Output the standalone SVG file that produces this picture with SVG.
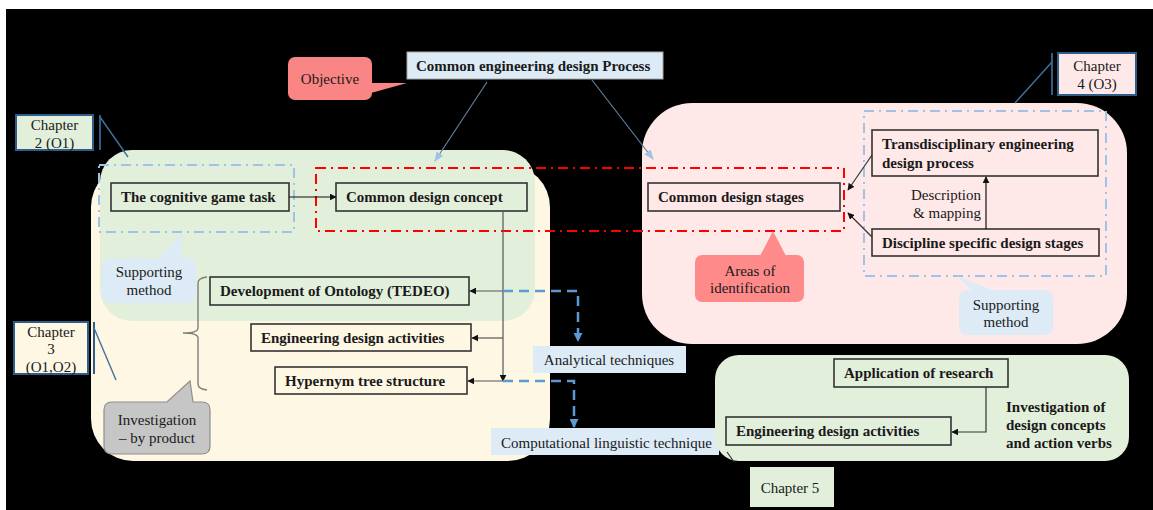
<svg xmlns="http://www.w3.org/2000/svg" width="1153" height="510" viewBox="0 0 1153 510">
  <defs>
    <style>
      text { font-family: "Liberation Serif", "Times New Roman", serif; font-size: 15px; fill: #1a1a1a; }
      .b { font-weight: bold; }
      .c { text-anchor: middle; }
      .r { text-anchor: end; }
      .node { fill: none; stroke: #333333; stroke-width: 1.6; }
      .chap { stroke: #2F5D8A; stroke-width: 2; }
      .lead { stroke: #41719C; stroke-width: 1.4; fill: none; }
      .dashblue { fill: none; stroke: #9DC3E6; stroke-width: 2; stroke-dasharray: 10 5 2 5; }
      .dashred { fill: none; stroke: #FF0000; stroke-width: 2; stroke-dasharray: 10 5 2 5; }
      .conn { fill: none; stroke: #555555; stroke-width: 1.2; }
      .flow { fill: none; stroke: #5B9BD5; stroke-width: 2.5; stroke-dasharray: 10 6; }
      .goal { fill: none; stroke: #5F7F9E; stroke-width: 1.2; }
    </style>
    <marker id="ah" viewBox="0 0 10 10" refX="9" refY="5" markerWidth="7" markerHeight="7" orient="auto" markerUnits="userSpaceOnUse">
      <path d="M0,0 L10,5 L0,10 z" fill="#111111"/>
    </marker>
    <marker id="ahBlue" viewBox="0 0 10 10" refX="9" refY="5" markerWidth="9" markerHeight="9" orient="auto" markerUnits="userSpaceOnUse">
      <path d="M0,0 L10,5 L0,10 z" fill="#5B9BD5"/>
    </marker>
    <marker id="ahLight" viewBox="0 0 10 10" refX="9" refY="5" markerWidth="10" markerHeight="10" orient="auto" markerUnits="userSpaceOnUse">
      <path d="M0,1 L10,5 L0,9 z" fill="#9DC3E6"/>
    </marker>
  </defs>

  <!-- canvas -->
  <rect x="0" y="0" width="1153" height="510" fill="#ffffff"/>
  <rect x="6" y="9" width="1147" height="501" fill="#000000"/>

  <!-- regions -->
  <g id="region-chapter3">
    <rect x="91" y="165" width="459" height="296" rx="42" fill="#FEF7E4"/>
  </g>
  <g id="region-chapter2">
    <rect x="100" y="150" width="435" height="171" rx="32" fill="#E2EFDA"/>
  </g>
  <g id="region-chapter4">
    <rect x="642" y="103" width="485" height="241" rx="50" fill="#FFE8E8"/>
  </g>

  <!-- technique labels -->
  <g id="label-analytical">
    <rect x="533" y="346" width="153" height="27" fill="#DDEBF7"/>
    <text x="609" y="365" class="c">Analytical  techniques</text>
  </g>
  <g id="label-computational">
    <rect x="491" y="428" width="228" height="27" fill="#DDEBF7"/>
    <text x="501" y="448">Computational linguistic  technique</text>
  </g>

  <g id="region-chapter5">
    <rect x="715" y="355" width="414" height="106" rx="24" fill="#E2EFDA"/>
  </g>

  <!-- chapter tags -->
  <g id="chapter2">
    <rect x="16" y="115" width="77" height="35" fill="#E2EFDA" class="chap"/>
    <line x1="100" y1="115" x2="100" y2="150" class="chap"/>
    <line x1="100" y1="117" x2="128" y2="157" class="lead"/>
    <text x="54.5" y="130" class="c">Chapter</text>
    <text x="54.5" y="148" class="c">2 (O1)</text>
  </g>
  <g id="chapter3">
    <rect x="14" y="322" width="74" height="52" fill="#FEF7E4" class="chap"/>
    <line x1="94" y1="322" x2="94" y2="374" class="chap"/>
    <line x1="94" y1="328" x2="116" y2="380" class="lead"/>
    <text x="51" y="337" class="c">Chapter</text>
    <text x="51" y="354" class="c">3</text>
    <text x="51" y="372" class="c">(O1,O2)</text>
  </g>
  <g id="chapter4">
    <rect x="1058" y="53" width="78" height="42" fill="#FFE8E8" class="chap"/>
    <line x1="1052" y1="53" x2="1052" y2="95" class="chap"/>
    <line x1="1052" y1="62" x2="1015" y2="103" class="lead"/>
    <text x="1097" y="71" class="c">Chapter</text>
    <text x="1097" y="89" class="c">4 (O3)</text>
  </g>
  <g id="chapter5">
    <rect x="750" y="467" width="84" height="40" fill="#E2EFDA"/>
    <line x1="727" y1="452" x2="734" y2="462" stroke="#333333" stroke-width="1.2"/>
    <text x="790" y="493" class="c">Chapter 5</text>
  </g>

  <!-- scope outlines -->
  <g id="scope-outlines">
    <rect x="99" y="165" width="195" height="67" class="dashblue"/>
    <rect x="864" y="111" width="242" height="165" class="dashblue"/>
    <rect x="316" y="168" width="528" height="63" class="dashred"/>
  </g>

  <!-- callouts -->
  <g id="callout-objective">
    <rect x="288" y="57" width="84" height="43" rx="7" fill="#FA8585"/>
    <polygon points="371,83 407,83 371,93" fill="#FA8585"/>
    <text x="330" y="84" class="c">Objective</text>
  </g>
  <g id="callout-areas">
    <rect x="695" y="255" width="109" height="47" rx="7" fill="#FF8A8A"/>
    <polygon points="760,256 773,231 786,256" fill="#FF8A8A"/>
    <text x="750" y="276" class="c">Areas of</text>
    <text x="750" y="293" class="c">identification</text>
  </g>
  <g id="callout-support-left">
    <rect x="102" y="258" width="94" height="45" rx="8" fill="#DDEBF7"/>
    <polygon points="158,259 183,233 181,259" fill="#DDEBF7"/>
    <text x="149" y="277" class="c">Supporting</text>
    <text x="149" y="295" class="c">method</text>
  </g>
  <g id="callout-support-right">
    <rect x="959" y="290" width="94" height="45" rx="8" fill="#DDEBF7"/>
    <polygon points="972,291 957,276 995,291" fill="#DDEBF7"/>
    <text x="1006" y="310" class="c">Supporting</text>
    <text x="1006" y="327" class="c">method</text>
  </g>
  <g id="callout-investigation">
    <path d="M112,402 H167 L190,381 L193,402 H202 Q210,402 210,410 V446 Q210,454 202,454 H112 Q104,454 104,446 V410 Q104,402 112,402 Z" fill="#C6C6C6" stroke="#8E8E8E" stroke-width="1.2"/>
    <text x="157" y="425" class="c">Investigation</text>
    <text x="157" y="443" class="c">– by product</text>
  </g>

  <!-- nodes -->
  <g id="node-process">
    <rect x="407" y="52" width="256" height="27" fill="#DDEBF7" stroke="#A6A6A6" stroke-width="1"/>
    <text x="416" y="71" class="b">Common  engineering design Process</text>
  </g>
  <g id="node-cognitive">
    <rect x="111" y="183" width="178" height="28" class="node"/>
    <text x="121" y="202" class="b">The cognitive game task</text>
  </g>
  <g id="node-concept">
    <rect x="336" y="183" width="191" height="28" class="node"/>
    <text x="346" y="202" class="b">Common  design concept</text>
  </g>
  <g id="node-stages">
    <rect x="648" y="183" width="192" height="28" class="node"/>
    <text x="658" y="202" class="b">Common  design stages</text>
  </g>
  <g id="node-transdisciplinary">
    <rect x="872" y="130" width="226" height="46" class="node"/>
    <text x="882" y="149" class="b">Transdisciplinary engineering</text>
    <text x="882" y="168" class="b">design process</text>
  </g>
  <g id="node-discipline">
    <rect x="872" y="229" width="227" height="27" class="node"/>
    <text x="882" y="248" class="b">Discipline specific design stages</text>
  </g>
  <g id="node-ontology">
    <rect x="210" y="277" width="259" height="28" class="node"/>
    <text x="220" y="296" class="b">Development of Ontology (TEDEO)</text>
  </g>
  <g id="node-activities">
    <rect x="251" y="324" width="220" height="27" class="node"/>
    <text x="261" y="343" class="b">Engineering design activities</text>
  </g>
  <g id="node-hypernym">
    <rect x="275" y="367" width="192" height="27" class="node"/>
    <text x="285" y="386" class="b">Hypernym  tree structure</text>
  </g>
  <g id="node-application">
    <rect x="834" y="359" width="174" height="28" class="node"/>
    <text x="844" y="378" class="b">Application of research</text>
  </g>
  <g id="node-activities-applied">
    <rect x="726" y="417" width="225" height="28" class="node"/>
    <text x="736" y="436" class="b">Engineering design activities</text>
  </g>
  <g id="note-investigation">
    <text x="1006" y="412" class="b">Investigation of</text>
    <text x="1006" y="430" class="b">design concepts</text>
    <text x="1006" y="448" class="b">and action  verbs</text>
  </g>
  <g id="note-description">
    <text x="981" y="200" class="r">Description</text>
    <text x="981" y="218" class="r">&amp; mapping</text>
  </g>

  <!-- connectors -->
  <g id="connectors">
    <line x1="487" y1="82" x2="435" y2="161" class="goal" marker-end="url(#ahLight)"/>
    <line x1="592" y1="80" x2="653" y2="159" class="goal" marker-end="url(#ahLight)"/>
    <line x1="289" y1="197" x2="336" y2="197" stroke="#111111" stroke-width="1.2" marker-end="url(#ah)"/>
    <line x1="986" y1="229" x2="986" y2="177" stroke="#111111" stroke-width="1.2" marker-end="url(#ah)"/>
    <line x1="872" y1="155" x2="848" y2="190" stroke="#333333" stroke-width="1.2" marker-end="url(#ah)"/>
    <line x1="872" y1="237" x2="848" y2="213" stroke="#333333" stroke-width="1.2" marker-end="url(#ah)"/>
    <!-- concept to research outputs -->
    <line x1="503" y1="212" x2="503" y2="381" class="conn" marker-end="url(#ah)"/>
    <line x1="503" y1="291" x2="470" y2="291" class="conn" marker-end="url(#ah)"/>
    <line x1="503" y1="338" x2="472" y2="338" class="conn" marker-end="url(#ah)"/>
    <line x1="503" y1="381" x2="468" y2="381" class="conn" marker-end="url(#ah)"/>
    <!-- techniques -->
    <path d="M503,291 H578 V341" class="flow" marker-end="url(#ahBlue)"/>
    <path d="M503,381 H574 V427" class="flow" marker-end="url(#ahBlue)"/>
    <!-- brace over outputs -->
    <path d="M207,277 Q198,278 198,283 V328 Q198,333 183,333 Q198,333 198,338 V384 Q198,389 207,390" fill="none" stroke="#7F7F7F" stroke-width="1.4"/>
    <!-- application to activities -->
    <path d="M986,387 V432 H952" fill="none" stroke="#333333" stroke-width="1.2" marker-end="url(#ah)"/>
  </g>
</svg>
